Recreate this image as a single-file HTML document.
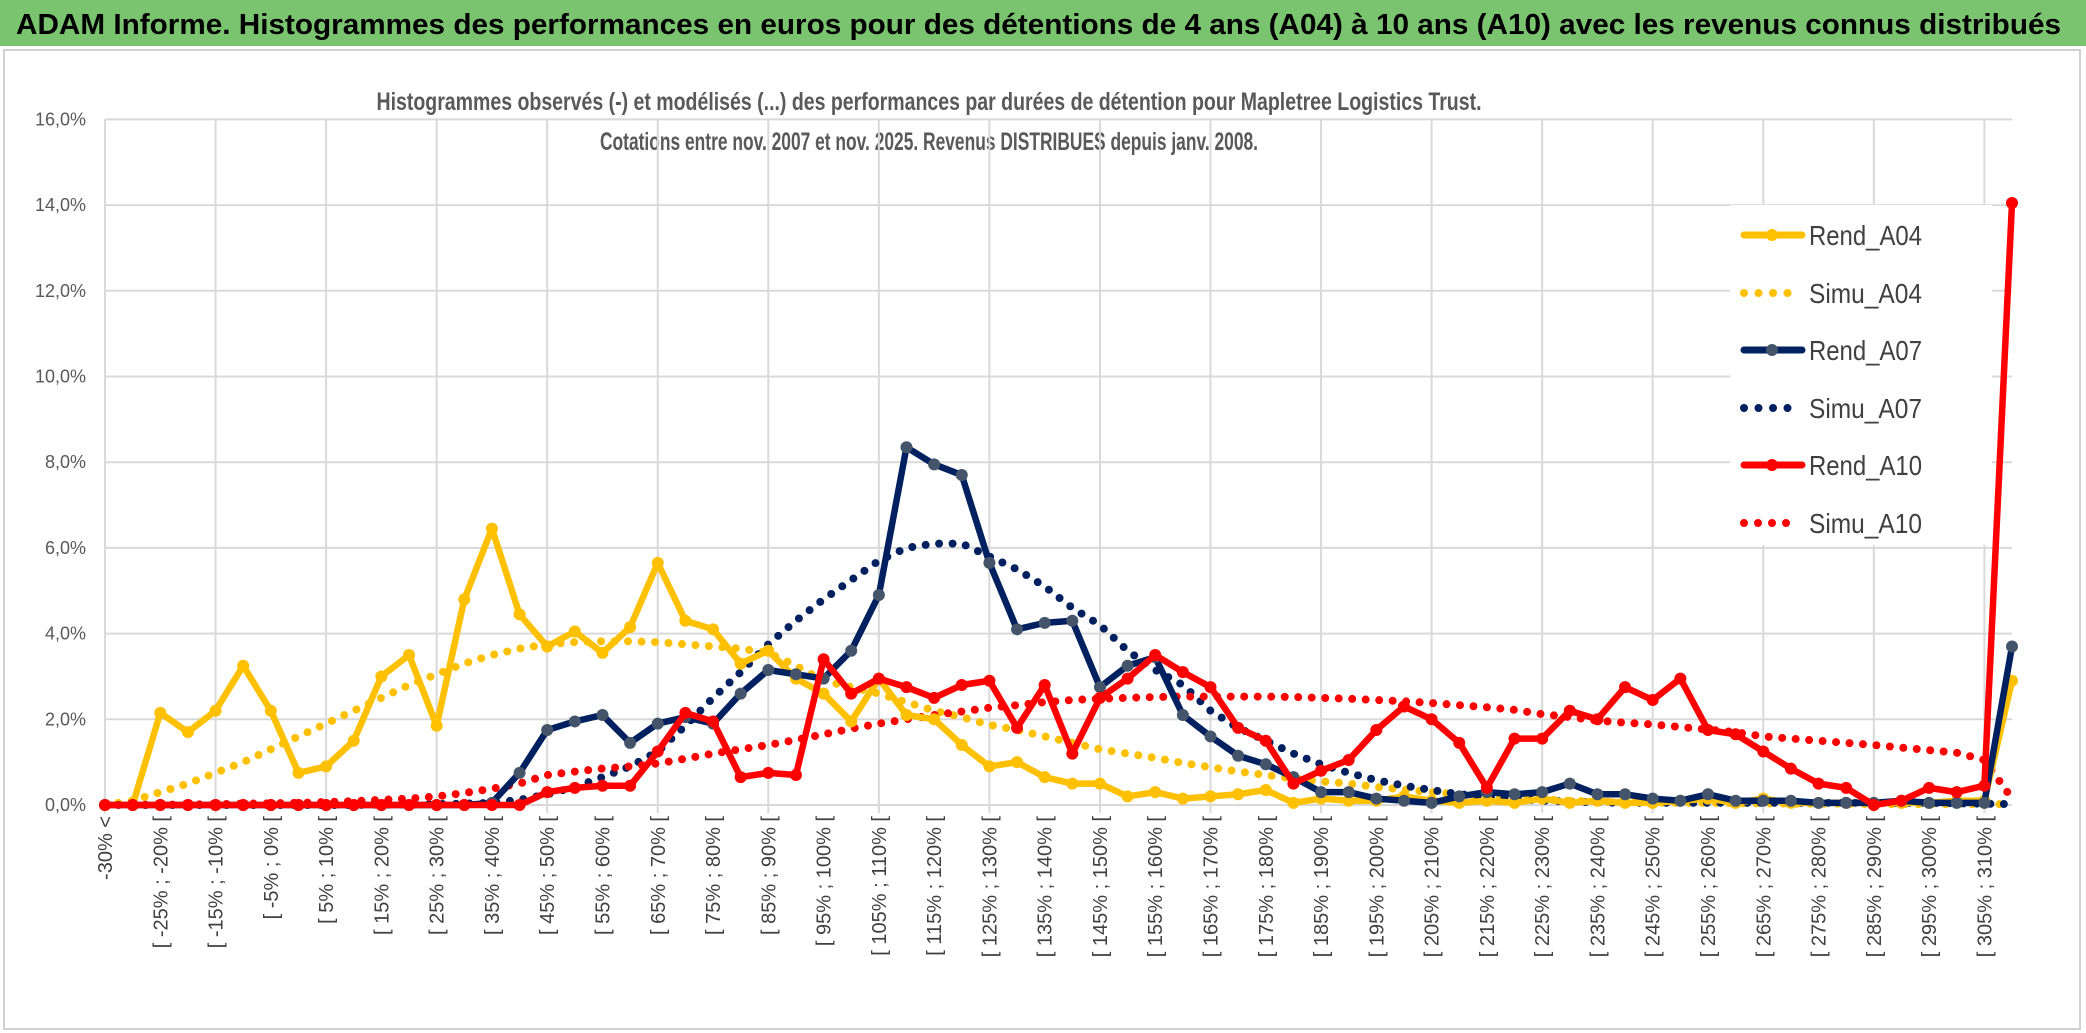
<!DOCTYPE html>
<html><head><meta charset="utf-8"><style>
html,body{margin:0;padding:0;background:#fff;}
svg{display:block;font-family:"Liberation Sans",sans-serif;}
</style></head><body>
<svg id="chart" width="2086" height="1033" viewBox="0 0 2086 1033" xmlns="http://www.w3.org/2000/svg">
<rect x="0" y="0" width="2086" height="1033" fill="#fff"/>
<rect x="0" y="0" width="2086" height="46" fill="#7ac46f"/>
<text x="16" y="34" font-size="29" font-weight="bold" fill="#000" textLength="2045" lengthAdjust="spacingAndGlyphs">ADAM Informe. Histogrammes des performances en euros pour des détentions de 4 ans (A04) à 10 ans (A10) avec les revenus connus distribués</text>
<rect x="4" y="50" width="2076" height="979" fill="none" stroke="#d0d0d0" stroke-width="2"/>
<text x="929" y="110" text-anchor="middle" font-size="25" font-weight="bold" fill="#595959" textLength="1105" lengthAdjust="spacingAndGlyphs">Histogrammes observés (-) et modélisés (...) des performances par durées de détention pour Mapletree Logistics Trust.</text>
<text x="929" y="150" text-anchor="middle" font-size="25" font-weight="bold" fill="#595959" textLength="658" lengthAdjust="spacingAndGlyphs">Cotations entre nov. 2007 et nov. 2025. Revenus DISTRIBUES depuis janv. 2008.</text>
<g id="grid"></g>
<g id="yaxis"></g>
<g id="xaxis"></g>
<g id="series"></g>
<g>
<rect x="1730" y="205" width="262" height="340" fill="#fff"/>
<g><line x1="1744" y1="235" x2="1802" y2="235" stroke="#ffc000" stroke-width="7" stroke-linecap="round"/><circle cx="1772" cy="235" r="6" fill="#ffc000"/><text x="1809" y="245" font-size="28" fill="#404040" textLength="113" lengthAdjust="spacingAndGlyphs">Rend_A04</text></g>
<g><line x1="1744" y1="293" x2="1792" y2="293" stroke="#ffc000" stroke-width="8" stroke-linecap="round" stroke-dasharray="0 14.5"/><text x="1809" y="303" font-size="28" fill="#404040" textLength="113" lengthAdjust="spacingAndGlyphs">Simu_A04</text></g>
<g><line x1="1744" y1="350" x2="1802" y2="350" stroke="#002060" stroke-width="7" stroke-linecap="round"/><circle cx="1772" cy="350" r="6" fill="#44546a"/><text x="1809" y="360" font-size="28" fill="#404040" textLength="113" lengthAdjust="spacingAndGlyphs">Rend_A07</text></g>
<g><line x1="1744" y1="408" x2="1792" y2="408" stroke="#002060" stroke-width="8" stroke-linecap="round" stroke-dasharray="0 14.5"/><text x="1809" y="418" font-size="28" fill="#404040" textLength="113" lengthAdjust="spacingAndGlyphs">Simu_A07</text></g>
<g><line x1="1744" y1="465" x2="1802" y2="465" stroke="#ff0000" stroke-width="7" stroke-linecap="round"/><circle cx="1772" cy="465" r="6" fill="#ff0000"/><text x="1809" y="475" font-size="28" fill="#404040" textLength="113" lengthAdjust="spacingAndGlyphs">Rend_A10</text></g>
<g><line x1="1744" y1="523" x2="1800" y2="523" stroke="#ff0000" stroke-width="8" stroke-linecap="round" stroke-dasharray="0 14"/><text x="1809" y="533" font-size="28" fill="#404040" textLength="113" lengthAdjust="spacingAndGlyphs">Simu_A10</text></g>
</g>
</svg>
<script>
const rendA04 = [0,0,2.15,1.7,2.2,3.25,2.2,0.75,0.9,1.5,3.0,3.5,1.85,4.8,6.45,4.45,3.7,4.05,3.55,4.15,5.65,4.3,4.1,3.3,3.6,2.95,2.6,1.95,2.95,2.1,2.0,1.4,0.9,1.0,0.65,0.5,0.5,0.2,0.3,0.15,0.2,0.25,0.35,0.05,0.15,0.1,0.1,0.2,0.1,0.05,0.1,0.05,0.15,0.05,0.1,0.05,0.05,0.1,0.15,0.05,0.15,0.05,0.05,0.05,0.05,0.05,0.05,0.1,0.1,2.9];
const simuA04 = [0,0.1,0.3,0.5,0.75,1.0,1.3,1.6,1.9,2.2,2.5,2.8,3.05,3.3,3.5,3.65,3.75,3.8,3.82,3.82,3.8,3.75,3.7,3.65,3.55,3.25,2.9,2.75,2.6,2.4,2.2,2.05,1.87,1.75,1.6,1.45,1.3,1.2,1.1,0.98,0.88,0.78,0.7,0.62,0.55,0.5,0.42,0.36,0.3,0.25,0.2,0.16,0.13,0.1,0.08,0.07,0.06,0.05,0.05,0.04,0.04,0.03,0.03,0.03,0.02,0.02,0.02,0.02,0.02,0.02];
const rendA07 = [0,0,0,0,0,0,0,0,0,0,0,0,0,0,0.05,0.75,1.75,1.95,2.1,1.45,1.9,2.05,1.9,2.6,3.15,3.05,2.95,3.6,4.9,8.35,7.95,7.7,5.65,4.1,4.25,4.3,2.75,3.25,3.45,2.1,1.6,1.15,0.95,0.65,0.3,0.3,0.15,0.1,0.05,0.2,0.3,0.25,0.3,0.5,0.25,0.25,0.15,0.1,0.25,0.1,0.1,0.1,0.05,0.05,0.05,0.1,0.05,0.05,0.05,3.7];
const simuA07 = [0,0,0,0,0,0,0,0,0,0,0.01,0.01,0.02,0.03,0.05,0.12,0.25,0.42,0.65,0.9,1.25,1.85,2.5,3.1,3.75,4.3,4.8,5.25,5.7,6.0,6.1,6.1,5.8,5.5,5.1,4.6,4.2,3.6,3.15,2.8,2.2,1.8,1.5,1.2,0.95,0.75,0.58,0.45,0.35,0.25,0.2,0.15,0.1,0.08,0.06,0.05,0.05,0.05,0.05,0.05,0.05,0.05,0.05,0.05,0.05,0.05,0.05,0.04,0.03,0.02];
const rendA10 = [0,0,0,0,0,0,0,0,0,0,0,0,0,0,0,0,0.3,0.4,0.45,0.45,1.25,2.15,1.95,0.65,0.75,0.7,3.4,2.6,2.95,2.75,2.5,2.8,2.9,1.8,2.8,1.2,2.5,2.95,3.5,3.1,2.75,1.8,1.5,0.5,0.8,1.05,1.75,2.3,2.0,1.45,0.4,1.55,1.55,2.2,2.0,2.75,2.45,2.95,1.75,1.65,1.25,0.85,0.5,0.4,0.0,0.1,0.4,0.3,0.45,14.05];
const simuA10 = [0,0,0.01,0.01,0.02,0.03,0.04,0.05,0.07,0.09,0.12,0.15,0.2,0.28,0.38,0.5,0.7,0.78,0.85,0.9,0.97,1.08,1.2,1.3,1.4,1.52,1.65,1.78,1.9,2.0,2.1,2.18,2.27,2.33,2.4,2.45,2.48,2.5,2.52,2.53,2.53,2.53,2.53,2.52,2.5,2.48,2.45,2.42,2.38,2.33,2.28,2.22,2.12,2.05,1.97,1.92,1.88,1.82,1.76,1.7,1.6,1.55,1.5,1.45,1.4,1.34,1.28,1.22,1.05,0.15];
const yTicks = [0,2,4,6,8,10,12,14,16];

const NS = "http://www.w3.org/2000/svg";
const N = rendA04.length;
const X0 = 105, X1 = 2012, Y0 = 805, YTOP = 119.4;
function xs(i){ return X0 + (X1 - X0) * i / (N - 1); }
function ys(v){ return Y0 - (Y0 - YTOP) * v / 16; }
function catLabel(i){
  if (i === 0) return "-30% <";
  const a = -30 + 5 * (i - 1), b = a + 5;
  return "[ " + a + "% ; " + b + "% [";
}
function mk(tag, attrs){ const e = document.createElementNS(NS, tag); for (const k in attrs) e.setAttribute(k, attrs[k]); return e; }

const grid = document.getElementById("grid");
yTicks.forEach(t => {
  const l = mk("line", {x1: X0, x2: X1, y1: ys(t), y2: ys(t), stroke: "#d9d9d9", "stroke-width": 2});
  
  
  grid.appendChild(l);
});
for (let i = 0; i < N; i += 4) {
  const l = mk("line", {x1: xs(i), x2: xs(i), y1: YTOP, y2: Y0 + 8, stroke: "#d9d9d9", "stroke-width": 2});
  
  
  grid.appendChild(l);
}
const yaxis = document.getElementById("yaxis");
yTicks.forEach(t => {
  const tx = mk("text", {x: 86, y: ys(t) + 6, "text-anchor": "end", "font-size": 18, fill: "#595959"});
  tx.textContent = t.toFixed(1).replace(".", ",") + "%";
  
  
  yaxis.appendChild(tx);
});
const xaxis = document.getElementById("xaxis");
for (let i = 0; i < N - 1; i += 2) {
  const x = xs(i) + 7, y = 816;
  const tx = mk("text", {x: x, y: y, "text-anchor": "end", "font-size": 20, fill: "#404040", transform: "rotate(-90 " + x + " " + y + ")"});
  tx.textContent = catLabel(i);
  
  
  xaxis.appendChild(tx);
}
const series = document.getElementById("series");
function drawDotted(data, color, name){
  const pts = data.map((v, i) => xs(i) + "," + ys(v)).join(" ");
  const p = mk("polyline", {points: pts, fill: "none", stroke: color, "stroke-width": 8, "stroke-linecap": "round", "stroke-dasharray": "0 13.5"});
  
  
  series.appendChild(p);
}
function drawSolid(data, color, markerColor, name){
  const g = mk("g", {});
  
  
  const pts = data.map((v, i) => xs(i) + "," + ys(v)).join(" ");
  const p = mk("polyline", {points: pts, fill: "none", stroke: color, "stroke-width": 6.5, "stroke-linejoin": "round"});
  
  
  g.appendChild(p);
  data.forEach((v, i) => {
    const c = mk("circle", {cx: xs(i), cy: ys(v), r: 6, fill: markerColor});
    
    
    g.appendChild(c);
  });
  series.appendChild(g);
}
drawDotted(simuA04, "#ffc000", "simu-a04-line");
drawDotted(simuA07, "#002060", "simu-a07-line");
drawDotted(simuA10, "#ff0000", "simu-a10-line");
drawSolid(rendA04, "#ffc000", "#ffc000", "rend-a04");
drawSolid(rendA07, "#002060", "#44546a", "rend-a07");
drawSolid(rendA10, "#ff0000", "#ff0000", "rend-a10");
</script>
</body></html>
